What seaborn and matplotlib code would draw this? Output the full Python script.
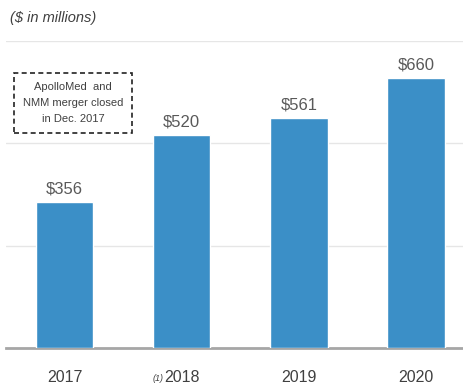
import matplotlib
matplotlib.use("Agg")
import matplotlib.pyplot as plt
import seaborn as sns
import pandas as pd

years = ["2017", "2018", "2019", "2020"]
revenue = [356, 520, 561, 660]
value_labels = ["$356", "$520", "$561", "$660"]
title_text = "($ in millions)"
note_text = "ApolloMed  and\nNMM merger closed\nin Dec. 2017"
footnote = "(1)"

df = pd.DataFrame({"year": years, "revenue": revenue})

sns.set_theme(style="white")
plt.rcParams["font.family"] = ["Liberation Sans Narrow", "Liberation Sans", "DejaVu Sans"]

fig = plt.figure(figsize=(4.64, 3.88), dpi=100)
ax = fig.add_axes([6 / 464, 40 / 388, 458 / 464, 307 / 388])

sns.barplot(data=df, x="year", y="revenue", color="#3B8FC7", width=0.49,
            saturation=1, ax=ax, zorder=3)

ax.set_ylim(0, 750)
ax.set_xlim(-0.5, 3.41)
ax.set_yticks([250, 500, 750])
ax.yaxis.grid(True, color="#E6E6E6", linewidth=1)
ax.set_axisbelow(True)
ax.tick_params(axis="y", left=False, labelleft=False)
ax.tick_params(axis="x", bottom=False, labelsize=11.5, labelcolor="#404040", pad=10)
ax.set_xlabel("")
ax.set_ylabel("")
for s in ["top", "right", "left"]:
    ax.spines[s].set_visible(False)
ax.spines["bottom"].set_color("#A6A6A6")
ax.spines["bottom"].set_linewidth(2)

for i, (v, lab) in enumerate(zip(revenue, value_labels)):
    ax.text(i, v + 14, lab, ha="center", va="bottom", fontsize=12, color="#595959")

# footnote marker before 2018
ax.text(0.845, -0.1, footnote, transform=ax.get_xaxis_transform(), fontsize=6.5,
        style="italic", color="#404040", ha="right", va="center")

fig.text(10 / 464, 1 - 18 / 388, title_text, fontsize=10.5, style="italic",
         color="#404040", ha="left", va="center")

fig.text(73 / 464, 1 - 103 / 388, note_text, fontsize=8, color="#404040",
         ha="center", va="center", linespacing=1.75,
         bbox=dict(boxstyle="square,pad=0.8", facecolor="white", edgecolor="#222222",
                   linestyle=(0, (3, 2)), linewidth=1.2))

fig.savefig("out.png", dpi=100)
